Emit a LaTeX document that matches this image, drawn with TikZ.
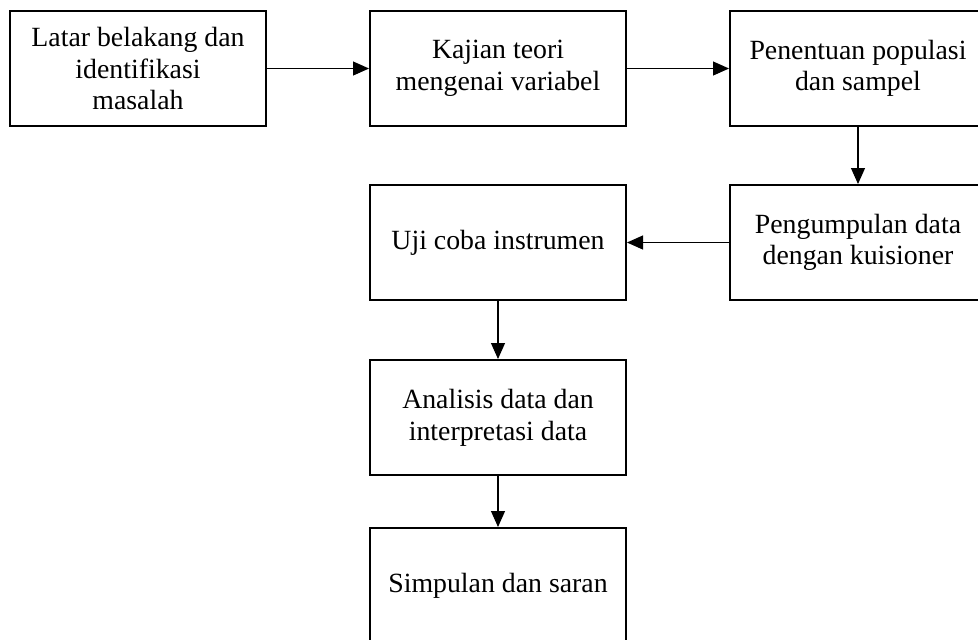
\documentclass[tikz,border=0pt]{standalone}
\usepackage{fontspec}
\setmainfont{Liberation Serif}
\usetikzlibrary{arrows.meta,positioning}

\begin{document}
\begin{tikzpicture}[x=0.5pt,y=-0.5pt,
  stage/.style={draw,line width=1pt,minimum width=128pt,minimum height=57.5pt,
    inner sep=0pt,align=center,font=\fontsize{13.9}{15.8}\selectfont},
  flow/.style={-{Triangle[length=8pt,width=7pt]},line width=0.55pt}]
\useasboundingbox (0,0) rectangle (978,639);
\clip (0,0) rectangle (978,639);
\node[stage] (latar) at (138,68.5) {Latar belakang dan\\identifikasi\\masalah};
\node[stage,right=51pt of latar] (kajian) {Kajian teori\\mengenai variabel};
\node[stage,right=51pt of kajian] (populasi) {Penentuan populasi\\dan sampel};
\node[stage,below=28.5pt of populasi] (kumpul) {Pengumpulan data\\dengan kuisioner};
\node[stage,left=51pt of kumpul] (ujicoba) {Uji coba instrumen};
\node[stage,below=29pt of ujicoba] (analisis) {Analisis data dan\\interpretasi data};
\node[stage,below=25.5pt of analisis] (simpulan) {Simpulan dan saran};
% alur penelitian
\draw[flow] (latar) -- (kajian);
\draw[flow] (kajian) -- (populasi);
\draw[flow] (populasi) -- (kumpul);
\draw[flow] (kumpul) -- (ujicoba);
\draw[flow] (ujicoba) -- (analisis);
\draw[flow] (analisis) -- (simpulan);
\end{tikzpicture}
\end{document}
